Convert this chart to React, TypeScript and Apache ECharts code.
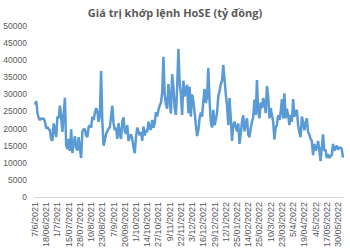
import React, { useEffect, useRef } from "react";
import * as echarts from "echarts";

const title = "Giá trị khớp lệnh HoSE (tỷ đồng)";

const tickLabels = [
  "7/6/2021", "18/06/2021", "1/7/2021", "15/07/2021", "28/07/2021", "10/8/2021", "23/08/2021",
  "7/9/2021", "20/09/2021", "1/10/2021", "14/10/2021", "27/10/2021", "9/11/2021", "22/11/2021",
  "3/12/2021", "16/12/2021", "29/12/2021", "12/1/2022", "25/01/2022", "14/02/2022", "25/02/2022",
  "10/3/2022", "23/03/2022", "5/4/2022", "19/04/2022", "4/5/2022", "17/05/2022", "30/05/2022",
];

const values = [
  27000, 28000, 24500, 23000, 22500, 23000, 22800, 23000, 22000, 20000,
  20500, 19800, 19500, 16800, 16500, 21500, 19500, 17500, 23500, 23000,
  26700, 23300, 19000, 24500, 29000, 15000, 14000, 17000, 13500, 19800,
  12800, 15500, 17800, 14500, 13600, 17500, 14000, 11400, 19200, 19800,
  19800, 18000, 17500, 20500, 21000, 20300, 23500, 22500, 24500, 26000,
  25000, 22000, 23500, 36800, 22000, 15000, 16500, 18500, 19200, 20000,
  20300, 23500, 26700, 21500, 19500, 20300, 17000, 21600, 18300, 17000,
  22000, 23300, 19200, 18500, 21000, 16400, 17500, 18300, 17000, 14500,
  12800, 17500, 20300, 19200, 18000, 19000, 16400, 20600, 18000, 19500,
  19000, 22000, 20000, 19700, 22500, 20300, 21500, 24800, 23500, 25500,
  26700, 27600, 30400, 41000, 30000, 27000, 25800, 33000, 28500, 24400,
  35900, 32200, 26000, 24000, 32000, 43300, 33500, 30000, 24000, 34000,
  29400, 31500, 32800, 24500, 32200, 23500, 30000, 28000, 24700, 21000,
  17800, 19500, 23000, 24700, 23500, 28000, 31600, 27500, 29400, 37800,
  28000, 22000, 20300, 25500, 21000, 22500, 24700, 29400, 31000, 33000,
  34000, 38600, 34500, 30000, 26700, 21000, 28900, 23000, 16400, 21000,
  22000, 20500, 19200, 21500, 15500, 18500, 22000, 23900, 19200, 21500,
  23000, 18300, 17500, 20000, 22000, 23400, 28500, 24000, 34200, 25000,
  23000, 27600, 26000, 28900, 27500, 24500, 32500, 29400, 23000, 26000,
  24000, 22000, 16800, 20300, 21000, 23900, 22500, 24700, 28600, 23000,
  30300, 23000, 25800, 24000, 21000, 24000, 22000, 28600, 23500, 24700,
  25500, 21000, 19000, 17500, 23500, 22000, 19500, 21500, 23000, 19000,
  18300, 17000, 16400, 12200, 15500, 13600, 14200, 16400, 13800, 10500,
  14500, 18300, 13500, 13800, 11400, 12500, 11400, 12000, 12200, 15500,
  13500, 14500, 15000, 13800, 14500, 14500, 14000, 11500,
];

const labelStep = 9;

export default function App() {
  const ref = useRef<HTMLDivElement>(null);
  useEffect(() => {
    document.body.style.margin = "0";
    if (!ref.current) return;
    const chart = echarts.init(ref.current, undefined, { renderer: "svg" });
    const categories = values.map((_, i) => "d" + i);
    chart.setOption({
      animation: false,
      backgroundColor: "#ffffff",
      title: {
        text: title,
        left: "center",
        top: 2,
        textStyle: {
          fontFamily: "Open Sans",
          fontSize: 11,
          fontWeight: "bold",
          color: "#595959",
        },
      },
      grid: { left: 35, right: 7, top: 26, bottom: 44, containLabel: false },
      xAxis: {
        type: "category",
        data: categories,
        boundaryGap: false,
        axisLine: { lineStyle: { color: "#d9d9d9", width: 1 } },
        axisTick: { show: false },
        axisLabel: {
          interval: labelStep - 1,
          rotate: 90,
          fontFamily: "Liberation Sans",
          fontSize: 9,
          color: "#595959",
          margin: 5,
          formatter: (_v: string, idx: number) =>
            idx % labelStep === 0 ? tickLabels[idx / labelStep] ?? "" : "",
        },
      },
      yAxis: {
        type: "value",
        min: 0,
        max: 50000,
        interval: 5000,
        axisLine: { show: false },
        axisTick: { show: false },
        splitLine: { show: false },
        axisLabel: {
          fontFamily: "Liberation Sans",
          fontSize: 8.5,
          color: "#595959",
          margin: 8,
          formatter: (v: number) => String(v),
        },
      },
      series: [
        {
          type: "line",
          data: values,
          showSymbol: false,
          lineStyle: { color: "#5B9BD5", width: 2.5 },
          itemStyle: { color: "#5B9BD5" },
        },
      ],
    });
    return () => chart.dispose();
  }, []);
  return <div ref={ref} style={{ width: 350, height: 250 }} />;
}
